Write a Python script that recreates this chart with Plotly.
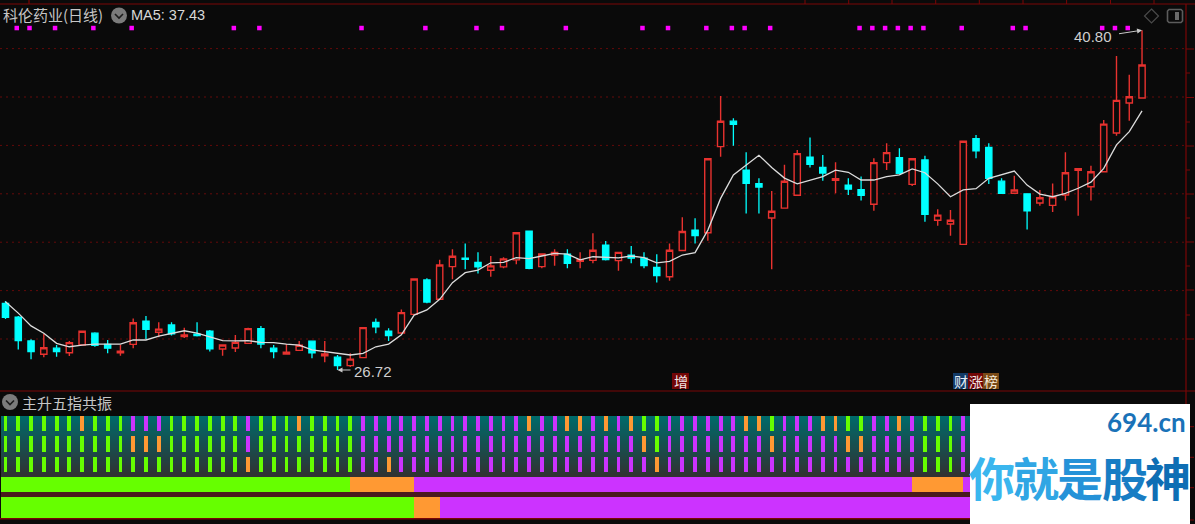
import plotly.graph_objects as go

W, H = 1195, 524
BG = "#0a0a0a"
RED = "#e8322f"
CYAN = "#00ffff"
GRID = "#640a0a"
AXIS = "#7a0606"
GREEN = "#66ff00"
ORANGE = "#ff9933"
PURPLE = "#cc33ff"

opens = [29.47,28.90,27.92,27.37,27.62,27.43,27.75,28.24,27.78,27.43,
         27.78,28.74,28.28,28.58,28.10,28.20,28.33,27.59,27.63,27.82,
         28.43,27.62,27.38,27.53,27.91,27.31,27.25,26.90,27.23,28.69,
         28.33,28.25,29.02,30.44,29.64,30.99,31.34,31.17,30.84,30.98,
         31.27,32.46,30.99,31.47,31.51,31.21,31.25,31.88,31.24,31.47,
         31.34,30.96,30.57,31.66,32.50,32.39,35.95,37.00,34.98,34.42,
         33.00,33.41,33.94,35.51,35.09,34.56,34.36,34.17,33.57,35.29,
         35.49,34.39,35.40,32.91,32.75,31.91,36.28,35.92,34.52,34.02,
         34.00,33.62,33.52,33.95,34.97,34.29,34.91,36.51,37.75,37.96]
highs = [29.57,28.95,27.99,28.21,27.75,27.92,28.32,28.28,27.96,27.75,
         28.85,28.95,28.69,28.69,28.47,28.69,28.37,27.75,28.17,28.47,
         28.54,27.75,27.79,27.92,27.93,27.92,27.34,27.41,28.47,28.85,
         28.44,29.22,30.48,30.51,31.27,31.71,31.95,31.58,31.43,31.38,
         32.39,32.46,31.54,31.71,31.71,31.58,32.37,32.05,31.61,31.84,
         31.58,31.50,31.95,33.03,32.99,35.45,38.04,37.12,35.72,34.64,
         34.12,35.20,35.81,36.33,35.60,35.30,34.64,34.71,35.47,36.09,
         35.88,35.45,35.57,33.36,33.33,36.17,36.43,36.09,34.64,34.75,
         34.00,34.16,34.43,35.72,35.04,35.16,37.05,39.69,38.92,40.76]
lows = [28.83,27.57,27.16,27.25,27.27,27.30,27.75,27.68,27.41,27.31,
        27.62,28.00,28.07,28.15,28.04,28.10,27.48,27.31,27.46,27.79,
        27.62,27.20,27.35,27.52,27.20,27.04,26.72,26.84,27.23,28.24,
        27.92,28.21,29.02,29.48,29.61,30.47,30.88,30.71,30.57,30.92,
        31.09,30.88,30.92,31.03,30.92,30.92,31.13,31.24,30.82,31.13,
        30.92,30.34,30.41,31.65,31.95,32.06,35.53,35.99,33.19,33.19,
        30.88,33.41,33.94,35.09,34.54,34.02,33.95,33.72,33.30,34.98,
        34.81,34.32,32.85,32.68,32.27,31.91,35.47,34.41,33.99,34.02,
        32.53,33.51,33.25,33.72,33.09,33.72,34.91,36.40,37.02,37.96]
closes = [28.90,27.93,27.48,27.64,27.48,27.85,28.32,27.74,27.62,27.50,
          28.67,28.40,28.41,28.21,28.17,28.14,27.59,27.75,27.86,28.43,
          27.79,27.48,27.45,27.74,27.43,27.38,26.90,27.17,28.47,28.50,
          28.14,29.09,30.48,29.53,31.06,31.42,31.29,30.98,31.02,31.31,
          32.39,30.92,31.51,31.58,31.13,31.28,31.67,31.28,31.58,31.34,
          31.03,30.62,31.67,32.44,32.27,35.45,37.00,36.87,34.43,34.28,
          33.28,34.52,35.66,35.22,34.86,34.62,34.19,33.94,35.29,35.70,
          34.85,35.45,33.15,33.12,32.91,36.17,35.78,34.64,34.02,34.16,
          33.30,33.84,33.88,34.87,35.04,34.91,36.88,37.86,38.01,39.32]
ma5 = [29.54,29.07,28.54,28.24,27.82,27.68,27.75,27.79,27.79,27.79,
       27.96,27.96,28.12,28.24,28.34,28.24,28.10,27.93,27.92,27.93,
       27.86,27.85,27.79,27.75,27.55,27.48,27.38,27.34,27.41,27.68,
       27.79,28.17,28.99,29.20,29.64,30.33,30.74,30.85,31.15,31.17,
       31.36,31.32,31.43,31.54,31.51,31.27,31.40,31.38,31.35,31.43,
       31.36,31.15,31.21,31.47,31.57,32.50,33.81,34.78,35.19,35.59,
       35.09,34.65,34.41,34.57,34.71,34.98,34.89,34.57,34.57,34.71,
       34.78,35.03,34.87,34.41,33.88,34.16,34.21,34.64,34.78,34.94,
       34.36,33.99,33.88,34.02,34.23,34.48,35.05,36.02,36.57,37.43]
signal_days = [1,2,4,7,10,18,20,28,33,37,39,44,50,52,55,57,58,60,
               67,68,69,70,71,72,75,79,80,86,87,88]
row1 = list("GGGGGGOGGGPPPGGGGGGPGGGOGGGGPPPPPPPPPPP"
            "PPOPPOOPOPOGGPPPPPPOOGPPPOOGGPPOPGGGP")
row2 = list("GGGGGGGGGGOOOGGGGGGPGGGGGGGGPPPPPPPPPPP"
            "PPPPPPPPPPPOGPPPPPPPPOPPPPPOOPPPPGGGP")
row3 = list("GGGGGGGGGGGGGGGGGGGOGGGGGGGGPPOPPPPPPPP"
            "PPPPPPPPPPPPOPPPPPPPPPPPPPPPPPPPPGGGP")
band1_edges = [-0.33, 27, 32, 71, 75, 90]
band1_states = ["G", "O", "P", "O", "P"]
band2_edges = [-0.33, 32, 34, 90]
band2_states = ["G", "O", "P"]
grid_prices = [28, 30, 32, 34, 36, 38, 40]
signal_level = 40.85
state_colors = {"G": GREEN, "O": ORANGE, "P": PURPLE}

days = list(range(len(closes)))


def fx(px):
    return px / W


def fy(py):
    return 1 - py / H


fig = go.Figure()

# lower panel: y2 runs in pixels-from-panel-top, only as a layout frame
P_TOP, P_BOT = 416, 518
for top, bot, states in [(416, 430.7, row1), (436, 452, row2), (457, 472.3, row3)]:
    fig.add_trace(go.Bar(
        x=list(range(len(states))), y=[bot - top] * len(states),
        base=[top - P_TOP] * len(states), width=0.3,
        marker=dict(color=[state_colors[s] for s in states], line=dict(width=0)),
        yaxis="y2", showlegend=False, hoverinfo="skip"))
for top, bot, edges, states in [(477.3, 492, band1_edges, band1_states),
                                (497.3, 518, band2_edges, band2_states)]:
    for k, s in enumerate(states):
        fig.add_trace(go.Bar(
            x=[edges[k + 1] - edges[k]], base=[edges[k]],
            y=[(top + bot) / 2 - P_TOP], width=[bot - top], orientation="h",
            marker=dict(color=state_colors[s], line=dict(width=0)),
            yaxis="y2", showlegend=False, hoverinfo="skip"))

fig.add_trace(go.Candlestick(
    x=days, open=opens, high=highs, low=lows, close=closes,
    increasing=dict(line=dict(color=RED, width=1.4), fillcolor=BG),
    decreasing=dict(line=dict(color=CYAN, width=1.3), fillcolor=CYAN),
    whiskerwidth=0, showlegend=False, hoverinfo="skip"))
fig.add_trace(go.Scatter(
    x=days, y=ma5, mode="lines", line=dict(color="#dcdcdc", width=1.3),
    showlegend=False, hoverinfo="skip"))
fig.add_trace(go.Scatter(
    x=[d - 0.12 for d in signal_days], y=[signal_level] * len(signal_days), mode="markers",
    marker=dict(symbol="square", size=4.5, color="#ff00ff", line=dict(width=0)),
    showlegend=False, hoverinfo="skip"))

shapes = []


def rect(x0, y0, x1, y1, color, layer="below", line=None):
    shapes.append(dict(type="rect", xref="paper", yref="paper",
                       x0=fx(x0), x1=fx(x1), y0=fy(y0), y1=fy(y1),
                       fillcolor=color, layer=layer,
                       line=dict(width=0) if line is None else line))


def seg(x0, y0, x1, y1, color=AXIS, width=1.2, layer="below"):
    shapes.append(dict(type="line", xref="paper", yref="paper",
                       x0=fx(x0), x1=fx(x1), y0=fy(y0), y1=fy(y1),
                       line=dict(color=color, width=width), layer=layer))


def path(points, color, width=1.2, close=False):
    d = "M" + " L".join(f"{fx(a):.5f},{fy(b):.5f}" for a, b in points) + (" Z" if close else "")
    shapes.append(dict(type="path", xref="paper", yref="paper", path=d,
                       line=dict(color=color, width=width), layer="above"))


def circle(cx, cy, r, color):
    shapes.append(dict(type="circle", xref="paper", yref="paper",
                       x0=fx(cx - r), x1=fx(cx + r), y0=fy(cy - r), y1=fy(cy + r),
                       fillcolor=color, line=dict(width=0), layer="above"))


# dotted price grid
for p in grid_prices:
    shapes.append(dict(type="line", xref="paper", yref="y", x0=0, x1=fx(1184), y0=p, y1=p,
                       line=dict(color=GRID, width=1, dash="2px,4px"), layer="below"))

# frame
seg(0, 4, W, 4)
seg(0, 391, W, 391)
seg(1186, 4, 1186, 524)
seg(29, 0, 29, 4)
for tx in [805, 848.7, 892, 935.7, 979.3, 1023, 1066.6, 1110.5, 1154]:
    seg(tx, 0, tx, 4, width=1)
for ty in [49, 97.5, 146, 194, 242, 290, 339, 426.7, 457.3, 487.7, 520]:
    seg(1186, ty, 1194, ty, width=1)
for ty in [73, 122, 170, 218, 266, 315]:
    seg(1186, ty, 1190, ty, width=1)

# lower panel backdrop: teal to grey
steps = 61
for k in range(steps):
    t = k / (steps - 1)
    c = f"rgb({int(0 + 50 * t)},{int(106 - 56 * t)},{int(106 - 56 * t)})"
    rect(1, 416 + k, 1186, 417.2 + k, c)
rect(1, 492, 1186, 497.3, "#4a1a1e")
seg(0, 518.8, 1186, 518.8, "#7a0606", 1.6)

# watermark
rect(970, 404, 1190, 524, "#ffffff", layer="above")

# icons
circle(119, 15.5, 8, "#7b7b7b")
path([(115, 14), (119, 18), (123, 14)], "#1c1c1c", 1.6)
circle(10, 402, 8, "#7b7b7b")
path([(6, 400.5), (10, 404.5), (14, 400.5)], "#1c1c1c", 1.6)
path([(1151.5, 9), (1158.5, 16), (1151.5, 23), (1144.5, 16)], "#4a4a4a", 1.2, close=True)
path([(1169, 9.5), (1181, 9.5), (1182.5, 11), (1182.5, 21), (1181, 22.5), (1169, 22.5),
      (1167.5, 21), (1167.5, 11)], "#5c5c5c", 1.6, close=True)
rect(1175, 12, 1179, 20, "#6a6a6a", layer="above")

# small signal tags
rect(672, 373, 689, 389, "#720606", layer="above")
rect(953, 373, 968, 389, "#123a66", layer="above")
rect(968, 373, 983, 389, "#720606", layer="above")
rect(983, 373, 999, 389, "#7a4a16", layer="above")

LAT = "Liberation Sans"
CJK = "Noto Sans CJK SC"
ann = []


def label(text, x, y, size, color="#c6c6c6", font=CJK, anchor="left"):
    ann.append(dict(text=text, xref="paper", yref="paper", x=fx(x), y=fy(y),
                    xanchor=anchor, yanchor="middle", showarrow=False,
                    font=dict(size=size, color=color, family=font)))


label("科伦药业(日线)", 1, 15, 15)
label("MA5: 37.43", 129, 15, 14.5, "#d8d8d8", LAT)
label("主升五指共振", 20, 402, 15)
label("增", 680.5, 381, 14, "#f2e6e6", CJK, "center")
label("财", 960.5, 381, 14, "#e6eef6", CJK, "center")
label("涨", 975.5, 381, 14, "#f2e6e6", CJK, "center")
label("榜", 991, 381, 14, "#f6ead8", CJK, "center")
label("26.72", 352, 371, 15, "#cfcfcf", LAT)
label("40.80", 1072, 36, 15, "#cfcfcf", LAT)
label("<b>694.cn</b>", 1105, 422, 26, "#1a72b8", "Lato")
for ch, cx, col in [("你", 992, "#3ab6ee"), ("就", 1036, "#30a6e4"), ("是", 1080, "#2592d8"),
                    ("股", 1125, "#187dc4"), ("神", 1168, "#0e6eb4")]:
    ann.append(dict(text=f"<b>{ch}</b>", xref="paper", yref="paper", x=fx(cx), y=fy(476),
                    xanchor="center", yanchor="middle", showarrow=False,
                    font=dict(size=46, color=col, family=CJK)))

for x, y, ax, ay in [(26, 26.72, 16, 0), (89, 40.76, -26, 4)]:
    ann.append(dict(text=" ", x=x, y=y, xref="x", yref="y", axref="pixel", ayref="pixel",
                    ax=ax, ay=ay, showarrow=True, arrowhead=2, arrowsize=1, arrowwidth=1,
                    arrowcolor="#c8c8c8", standoff=0, startstandoff=0))

fig.update_layout(
    width=W, height=H, autosize=False,
    margin=dict(l=0, r=0, t=0, b=0, pad=0),
    paper_bgcolor=BG, plot_bgcolor="rgba(0,0,0,0)",
    barmode="overlay", boxgap=0.3, bargap=0, showlegend=False,
    xaxis=dict(range=[-5.5 / 12.77, (W - 5.5) / 12.77], domain=[0, 1], visible=False,
               rangeslider=dict(visible=False), fixedrange=True),
    yaxis=dict(range=[42.008 - 0.04132 * H, 42.008], domain=[0, 1], visible=False, fixedrange=True),
    yaxis2=dict(range=[P_BOT - P_TOP, 0], domain=[fy(P_BOT), fy(P_TOP)], visible=False,
                anchor="x", fixedrange=True),
    shapes=shapes, annotations=ann,
)

fig.write_html("out.html", config={"displayModeBar": False},
               post_script="document.body.style.margin='0';document.body.style.background='#0a0a0a';")
